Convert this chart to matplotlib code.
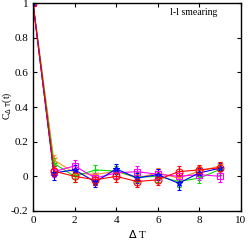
import numpy as np
import matplotlib
matplotlib.use('Agg')
import matplotlib.pyplot as plt

plt.rcParams['font.family'] = ['Liberation Serif', 'DejaVu Serif']

dt = [0, 1, 2, 3, 4, 5, 6, 7, 8, 9]

# 各组关联函数
c_orange = [1.0, 0.095, 0.02, 0.01, 0.03, -0.01, 0.02, -0.01, 0.03, 0.06]
c_green = [1.0, 0.075, 0.0, 0.037, 0.03, -0.005, 0.0, -0.03, -0.01, 0.04]
c_magenta = [1.0, 0.027, 0.06, -0.01, 0.02, 0.027, 0.012, 0.0, 0.01, 0.0]
c_blue = [1.0, 0.02, 0.037, -0.032, 0.043, -0.01, 0.01, -0.04, 0.02, 0.047]
c_red = [1.0, 0.03, 0.0, -0.02, 0.0, -0.03, -0.02, 0.027, 0.037, 0.05]

e_orange = [0.0, 0.03, 0.03, 0.025, 0.03, 0.025, 0.03, 0.03, 0.03, 0.025]
e_green = [0.0, 0.03, 0.035, 0.03, 0.03, 0.03, 0.03, 0.03, 0.03, 0.03]
e_magenta = [0.0, 0.03, 0.035, 0.03, 0.03, 0.03, 0.03, 0.03, 0.03, 0.03]
e_blue = [0.0, 0.04, 0.03, 0.03, 0.03, 0.03, 0.03, 0.04, 0.03, 0.03]
e_red = [0.0, 0.03, 0.03, 0.03, 0.03, 0.03, 0.03, 0.03, 0.03, 0.03]

fig = plt.figure(figsize=(2.49, 2.41), dpi=100)
ax = fig.add_axes([0.1325, 0.1245, 0.8355, 0.863])

series = [
    (c_orange, e_orange, '#ff8c1a', 'x', 'none'),
    (c_green, e_green, '#00e000', '+', 'none'),
    (c_magenta, e_magenta, '#ff00ff', 's', 'none'),
    (c_blue, e_blue, '#0000ff', '*', 'none'),
    (c_red, e_red, '#ff0000', 'o', 'none'),
]
for c, e, col, m, fc in series:
    ax.errorbar(dt, c, yerr=e, color=col, marker=m, markersize=5, mfc=fc,
                mec=col, mew=0.8, lw=0.8, elinewidth=0.8, capsize=1.5)

ax.set_xlim(0, 10)
ax.set_ylim(-0.2, 1.0)
ax.set_xticks([0, 2, 4, 6, 8, 10])
ax.set_yticks([-0.2, 0, 0.2, 0.4, 0.6, 0.8, 1])
ax.set_yticklabels(['-0.2', '0', '0.2', '0.4', '0.6', '0.8', '1'])
ax.tick_params(direction='in', top=True, right=True, labelsize=8, length=3, width=0.8)
for s in ax.spines.values():
    s.set_linewidth(1.0)

ax.set_xlabel(r'$\Delta$ T', fontsize=8, labelpad=2)
# y 轴标签放在图边上
fig.text(0.028, 0.56, r'C$_{\Delta\ \rm T}$(t)', fontsize=7, rotation=90,
         ha='center', va='center')
ax.text(6.6, 0.93, 'l-l smearing', fontsize=7)

fig.savefig('out.png', dpi=100)
